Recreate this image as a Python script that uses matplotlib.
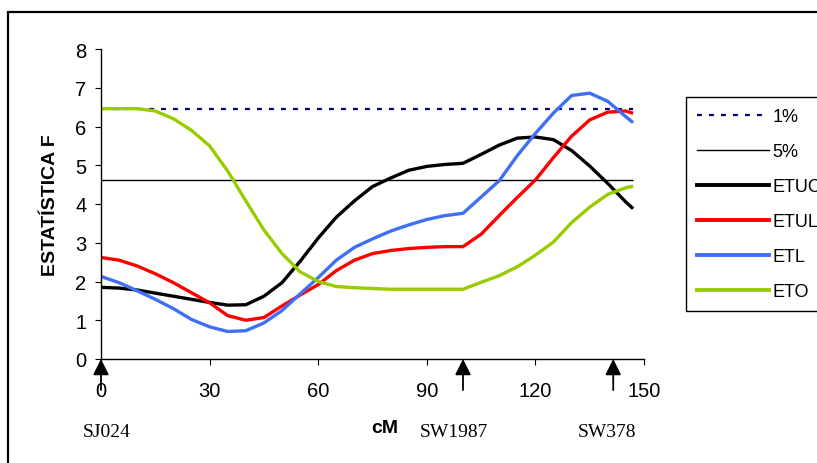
"""
plot.py
-------
Interval mapping profile: F statistic along the chromosome (cM) for
four traits, with 1% and 5% significance thresholds and marker positions.

Outputs: out.png
"""

import matplotlib
matplotlib.use("Agg")
import matplotlib.pyplot as plt
from matplotlib.patches import Rectangle
from matplotlib.lines import Line2D

plt.rcParams["font.family"] = ["Liberation Sans", "DejaVu Sans"]

# positions along the chromosome (cM)
CM = [0, 5, 10, 15, 20, 25, 30, 35, 40, 45, 50, 55, 60, 65, 70, 75, 80,
      85, 90, 95, 100, 105, 110, 115, 120, 125, 130, 135, 140, 145, 147]

ETUC = [1.85, 1.83, 1.78, 1.70, 1.62, 1.54, 1.46, 1.39, 1.40, 1.62, 1.97,
        2.52, 3.12, 3.66, 4.08, 4.45, 4.67, 4.87, 4.97, 5.02, 5.05, 5.28,
        5.52, 5.70, 5.73, 5.66, 5.38, 4.98, 4.53, 4.05, 3.88]
ETUL = [2.62, 2.55, 2.40, 2.20, 1.97, 1.71, 1.45, 1.12, 1.00, 1.07, 1.37,
        1.65, 1.92, 2.28, 2.55, 2.72, 2.80, 2.85, 2.88, 2.90, 2.90, 3.22,
        3.70, 4.17, 4.62, 5.20, 5.75, 6.17, 6.37, 6.40, 6.34]
ETL = [2.13, 1.97, 1.76, 1.54, 1.30, 1.02, 0.83, 0.71, 0.73, 0.93, 1.25,
       1.68, 2.10, 2.55, 2.88, 3.10, 3.30, 3.46, 3.60, 3.70, 3.76, 4.18,
       4.60, 5.25, 5.82, 6.35, 6.80, 6.86, 6.65, 6.25, 6.10]
ETO = [6.46, 6.46, 6.46, 6.40, 6.20, 5.90, 5.50, 4.85, 4.08, 3.33, 2.72,
       2.25, 2.00, 1.87, 1.84, 1.82, 1.80, 1.80, 1.80, 1.80, 1.80, 1.98,
       2.15, 2.38, 2.68, 3.02, 3.52, 3.92, 4.25, 4.42, 4.46]

THRESH_1 = 6.46
THRESH_5 = 4.62

MARKERS     = ["SJ024", "SW1987", "SW378"]
MARKER_POS  = [0, 100, 141.5]
MARKER_TEXT = [1.5, 97.5, 139.8]

SERIES = [("ETUC", ETUC, "#000000"),
          ("ETUL", ETUL, "#FF0000"),
          ("ETL",  ETL,  "#3F6FF5"),
          ("ETO",  ETO,  "#99CC00")]


def main():
    fig = plt.figure(figsize=(8.17, 4.64), dpi=100)
    ax = fig.add_axes([101/817, 1-360/464, 543/817, 310/464])

    # outer frame (cut off at right / bottom like the source)
    fig.patches.append(Rectangle((8/817, -0.2), 1.2, 1.2 - 12.5/464,
                                 transform=fig.transFigure, fill=False,
                                 edgecolor="black", lw=1.6))

    ax.hlines(THRESH_1, 0, 147, colors="#000080", lw=1.6,
              linestyles=(0, (2.2, 3.2)))
    ax.hlines(THRESH_5, 0, 147, colors="black", lw=1.0)
    for name, vals, col in SERIES:
        ax.plot(CM, vals, color=col, lw=2.4, solid_capstyle="butt")

    ax.set_xlim(0, 150)
    ax.set_ylim(0, 8)
    ax.set_xticks(range(0, 151, 30))
    ax.set_yticks(range(0, 9))
    for s in ["top", "right"]:
        ax.spines[s].set_visible(False)
    for s in ["left", "bottom"]:
        ax.spines[s].set_linewidth(1.0)
    ax.tick_params(axis="x", direction="out", length=4.5, pad=11,
                   labelsize=14.5)
    ax.tick_params(axis="y", direction="out", length=4.5, pad=6,
                   labelsize=14.5)

    ax.set_ylabel("ESTATÍSTICA F", fontsize=14, fontweight="bold")
    ax.yaxis.set_label_coords(-0.078, 0.5)
    ax.set_xlabel("cM", fontsize=14, fontweight="bold")
    ax.xaxis.set_label_coords(0.523, -0.195)

    # marker arrows and names
    for name, pos, tpos in zip(MARKERS, MARKER_POS, MARKER_TEXT):
        ax.annotate("", xy=(pos, 0), xytext=(pos, -0.8),
                    arrowprops=dict(arrowstyle="-|>", color="black", lw=1.3,
                                    mutation_scale=24, shrinkA=0, shrinkB=0),
                    annotation_clip=False)
        ax.text(tpos, -1.86, name, ha="center", va="center", fontsize=14,
                family=["Liberation Serif", "DejaVu Serif"])

    handles = [Line2D([], [], color="#000080", lw=1.6,
                      linestyle=(0, (2.2, 3.2))),
               Line2D([], [], color="black", lw=1.0)]
    handles += [Line2D([], [], color=c, lw=2.8) for _, _, c in SERIES]
    labels = ["1%", "5%"] + [n for n, _, _ in SERIES]
    leg = fig.legend(handles, labels, loc="upper left",
                     bbox_to_anchor=(686/817, 1-98/464), fontsize=13,
                     frameon=True, fancybox=False, framealpha=1,
                     edgecolor="black", handlelength=4.0,
                     handletextpad=0.2, labelspacing=1.0, borderpad=0.6,
                     borderaxespad=0)
    leg.get_frame().set_linewidth(1.0)

    fig.savefig("out.png", dpi=100)
    plt.close(fig)


if __name__ == "__main__":
    main()
